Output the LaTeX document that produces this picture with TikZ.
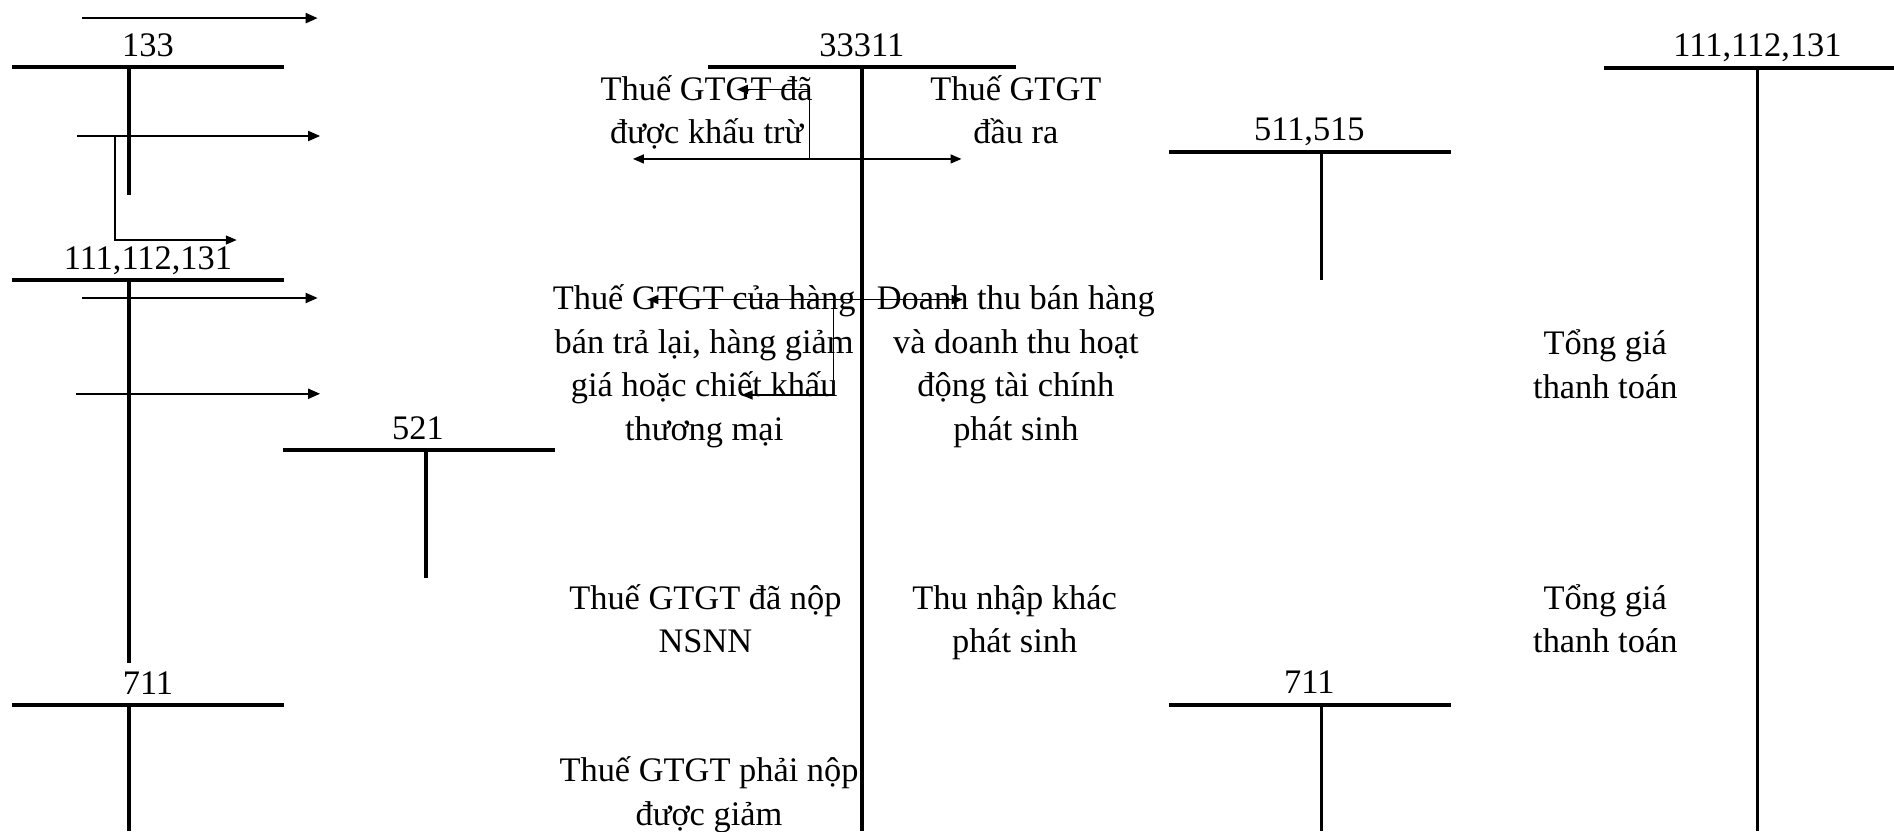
\documentclass[tikz,border=0pt]{standalone}
\usepackage{fontspec}
\setmainfont{Liberation Serif}
\usetikzlibrary{arrows.meta}

% T-account: name, label, bar left x, bar right x, stem x, bar y, stem bottom y, label x
\newcommand\tacc[8]{%
  \coordinate (#1-l) at (#3,#6);
  \coordinate (#1-r) at (#4,#6);
  \coordinate (#1-t) at (#5,#6);
  \coordinate (#1-b) at (#5,#7);
  \node[acct] (#1) at (#8,#6-9) {#2};
  \draw[bar] (#1-l) -- (#1-r);
  \draw[bar] (#1-t) -- (#1-b);
}

\begin{document}
\begin{tikzpicture}[x=0.604pt,y=-0.604pt,
  every node/.style={inner sep=0pt,outer sep=0pt,font=\fontsize{17.2}{21.8}\selectfont},
  acct/.style={anchor=base},
  % multi-line notes are placed by the baseline of their last line
  note/.style={anchor=base,align=center},
  bar/.style={line width=1.9pt},
  flow/.style={line width=1pt,-{Triangle[length=6pt,width=5pt]}},
  link/.style={line width=0.75pt},
  tip/.style={-{Triangle[length=5.5pt,width=4.5pt]}},
  both/.style={{Triangle[length=5.5pt,width=4.5pt]}-{Triangle[length=5.5pt,width=4.5pt]}},
]
\fill[white] (0,0) rectangle (1568,688);
\useasboundingbox (0,0) rectangle (1568,688);

% ---------- T-accounts ----------
\tacc{t133}{133}{10}{235}{107}{55.5}{161.5}{122.5}
\tacc{t111l}{111,112,131}{10}{235}{107}{231.8}{549}{122.5}
\tacc{t521}{521}{234}{459.5}{352.7}{372.5}{478.6}{346}
\tacc{t711l}{711}{10}{235}{107}{583.6}{688}{122.5}
\tacc{t33311}{33311}{586}{841}{713.5}{55.4}{688}{713.5}
\tacc{t511}{511,515}{968}{1201}{1094}{125.6}{232}{1084}
\tacc{t111r}{111,112,131}{1328}{1568}{1455}{56}{688}{1455}
\tacc{t711r}{711}{968}{1201}{1094}{583.5}{688}{1084}

% ---------- flows on the left ----------
\coordinate (a1s) at (68,15);     \coordinate (a1e) at (263,15);
\coordinate (a2s) at (64,112.6);  \coordinate (a2e) at (265,112.6);
\coordinate (a2k) at (95,112.6);  \coordinate (a2j) at (95,198.7);
\coordinate (a2f) at (196,198.7);
\coordinate (a3s) at (68,246.7);  \coordinate (a3e) at (263,246.7);
\coordinate (a4s) at (63,326);    \coordinate (a4e) at (265,326);
\draw[flow] (a1s) -- (a1e);
\draw[flow] (a2s) -- (a2e);
\draw[link,tip] (a2k) -- (a2j) -- (a2f);
\draw[flow] (a3s) -- (a3e);
\draw[flow] (a4s) -- (a4e);

% ---------- flows across 33311 ----------
\coordinate (d1l) at (524,131.6); \coordinate (d1r) at (796,131.6);
\coordinate (d1k) at (670,131.6); \coordinate (d1u) at (670,74);
\coordinate (d1f) at (610,74);
\draw[link,both] (d1l) -- (d1r);
\draw[link,tip] (d1k) -- (d1u) -- (d1f);

\coordinate (d2l) at (536,248);   \coordinate (d2r) at (797,248);
\coordinate (d2k) at (690,248);   \coordinate (d2d) at (690,327);
\coordinate (d2f) at (614,327);
\draw[link,both] (d2l) -- (d2r);
\draw[link,tip] (d2k) -- (d2d) -- (d2f);

% ---------- descriptions ----------
\node[note] (n1) at (585,119)  {Thuế GTGT đã\\được khấu trừ};
\node[note] (n2) at (841,119)  {Thuế GTGT\\đầu ra};
\node[note] (n3) at (583,364.5) {Thuế GTGT của hàng\\bán trả lại, hàng giảm\\giá hoặc chiết khấu\\thương mại};
\node[note] (n4) at (841,364.5) {Doanh thu bán hàng\\và doanh thu hoạt\\động tài chính\\phát sinh};
\node[note] (n5) at (584,540.5) {Thuế GTGT đã nộp\\NSNN};
\node[note] (n6) at (840,540.5) {Thu nhập khác\\phát sinh};
\node[note] (n7) at (587,683) {Thuế GTGT phải nộp\\được giảm};
\node[note] (n8) at (1329,329.5) {Tổng giá\\thanh toán};
\node[note] (n9) at (1329,540.5) {Tổng giá\\thanh toán};
\end{tikzpicture}
\end{document}
